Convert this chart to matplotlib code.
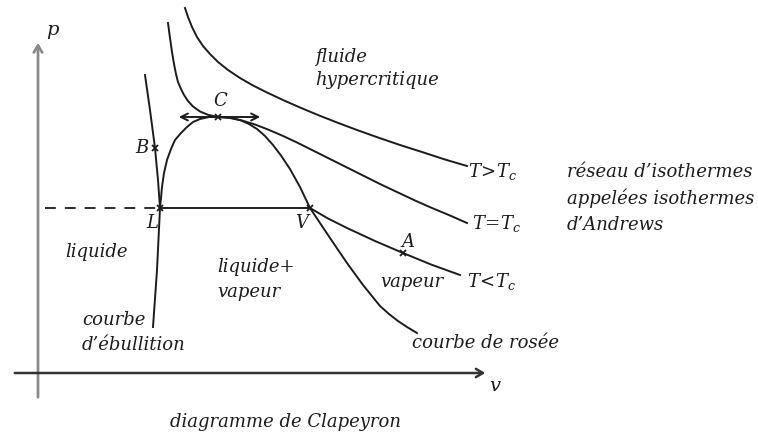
import matplotlib
matplotlib.use("Agg")
import matplotlib.pyplot as plt

plt.rcParams['font.family'] = 'DejaVu Serif'
plt.rcParams['font.style'] = 'italic'
plt.rcParams['mathtext.fontset'] = 'custom'
plt.rcParams['mathtext.rm'] = 'DejaVu Serif:italic'
plt.rcParams['mathtext.it'] = 'DejaVu Serif:italic'

# courbes du diagramme de Clapeyron, (v, p) en unites du dessin
dome_v = [160, 161, 162, 164, 167, 171, 175, 181, 187, 193, 200, 209, 218, 229, 240,
          249, 257, 265, 273, 281, 290, 300, 310, 320, 330, 347, 363, 380, 389, 398, 407, 417]
dome_p = [208, 198, 187, 173, 160, 149, 140, 133, 127, 122, 119, 117, 117, 117.5, 120,
          124, 129, 136, 145, 155.5, 169, 187, 208, 223, 238, 263, 285, 306, 314, 321, 327, 333]

liquid_v = [145, 150, 155, 158, 160, 157, 153]
liquid_p = [75, 110, 148, 180, 208, 270, 327]

tlow_v = [310, 328, 347, 375, 403, 431, 460]
tlow_p = [208, 218.5, 228, 241, 253, 264.5, 275]

tcrit_v = [168, 170, 172, 174, 176, 178, 181, 184, 188, 193, 200, 208, 218, 230, 242,
           255, 268, 282, 297, 313, 330, 347, 364, 381, 398, 415, 432, 450, 467]
tcrit_p = [23, 38, 52, 64, 74, 82, 89, 95, 101, 106.5, 111.5, 114.8, 117, 118, 120.5,
           124.5, 129.5, 135.5, 142.5, 150.5, 159, 167.5, 176, 184.5, 192.5, 200.5, 208, 215.5, 223]

thigh_v = [185, 188, 192, 197, 203, 210, 218, 228, 240, 253, 267, 283, 300, 318, 337,
           357, 378, 400, 422, 445, 467]
thigh_p = [8, 17, 27, 37, 46, 54, 62, 70, 78, 85.5, 92.5, 100, 107.5, 115, 122.5,
           130, 137.5, 145, 152, 159.5, 166]

# palier de changement d'etat
plateau_v = [160, 310]
plateau_p = [208, 208]

# points remarquables
pts_name = ['L', 'V', 'C', 'B', 'A']
pts_v = [160, 310, 218, 155, 403]
pts_p = [208, 208, 117, 148, 253]

fig = plt.figure(figsize=(7.58, 4.40), dpi=100)
ax = fig.add_axes([0, 0, 1, 1])
ax.set_xlim(0, 758)
ax.set_ylim(440, 0)
ax.axis('off')

ink = '#1c1c1c'
lw = 1.4

# axes p et v
ax.annotate('', xy=(38, 40), xytext=(38, 400),
            arrowprops=dict(arrowstyle='->,head_length=0.5,head_width=0.3', color='#8a8a8a', lw=2))
ax.annotate('', xy=(488, 373), xytext=(12, 373),
            arrowprops=dict(arrowstyle='->,head_length=0.5,head_width=0.3', color='#333333', lw=1.8))
ax.plot([45, plateau_v[0]], [plateau_p[0], plateau_p[0]], '--', color=ink, lw=1.3, dashes=(6, 5))

for cv, cp in [(dome_v, dome_p), (liquid_v, liquid_p), (plateau_v, plateau_p),
               (tlow_v, tlow_p), (tcrit_v, tcrit_p), (thigh_v, thigh_p)]:
    ax.plot(cv, cp, color=ink, lw=lw, solid_joinstyle='round')

ax.annotate('', xy=(263, 117), xytext=(176, 117),
            arrowprops=dict(arrowstyle='<->,head_length=0.5,head_width=0.25', color=ink, lw=1.4))

ax.plot(pts_v, pts_p, 'x', color=ink, ms=5, mew=1.3)

fs = 13
lab_off = {'L': (-8, 15), 'V': (-8, 15), 'C': (2, -16), 'B': (-13, 0), 'A': (5, -11)}
for name, v, p in zip(pts_name, pts_v, pts_p):
    dx, dy = lab_off[name]
    ax.text(v + dx, p + dy, name, fontsize=fs, color=ink, ha='center', va='center')

ax.text(52, 30, 'p', fontsize=fs + 1, color=ink, ha='center', va='center')
ax.text(495, 386, 'v', fontsize=fs + 1, color=ink, ha='center', va='center')

ax.text(thigh_v[-1] + 1, thigh_p[-1] + 6, r'$T\!>\!T_c$', fontsize=fs, color=ink, va='center')
ax.text(tcrit_v[-1] + 5, tcrit_p[-1] + 1, r'$T\!=\!T_c$', fontsize=fs, color=ink, va='center')
ax.text(tlow_v[-1] + 7, tlow_p[-1] + 7, r'$T\!<\!T_c$', fontsize=fs, color=ink, va='center')

ax.text(315, 57, 'fluide', fontsize=fs, color=ink, va='center')
ax.text(315, 80, 'hypercritique', fontsize=fs, color=ink, va='center')
ax.text(567, 172, 'réseau d\u2019isothermes', fontsize=fs, color=ink, va='center')
ax.text(567, 198, 'appelées isothermes', fontsize=fs, color=ink, va='center')
ax.text(567, 225, 'd\u2019Andrews', fontsize=fs, color=ink, va='center')
ax.text(65, 252, 'liquide', fontsize=fs, color=ink, va='center')
ax.text(217, 267, 'liquide+', fontsize=fs, color=ink, va='center')
ax.text(217, 292, 'vapeur', fontsize=fs, color=ink, va='center')
ax.text(380, 282, 'vapeur', fontsize=fs, color=ink, va='center')
ax.text(82, 320, 'courbe', fontsize=fs, color=ink, va='center')
ax.text(82, 345, 'd\u2019ébullition', fontsize=fs, color=ink, va='center')
ax.text(412, 343, 'courbe de rosée', fontsize=fs, color=ink, va='center')
ax.text(286, 422, 'diagramme de Clapeyron', fontsize=fs, color=ink, ha='center', va='center')

fig.savefig('out.png', dpi=100)
